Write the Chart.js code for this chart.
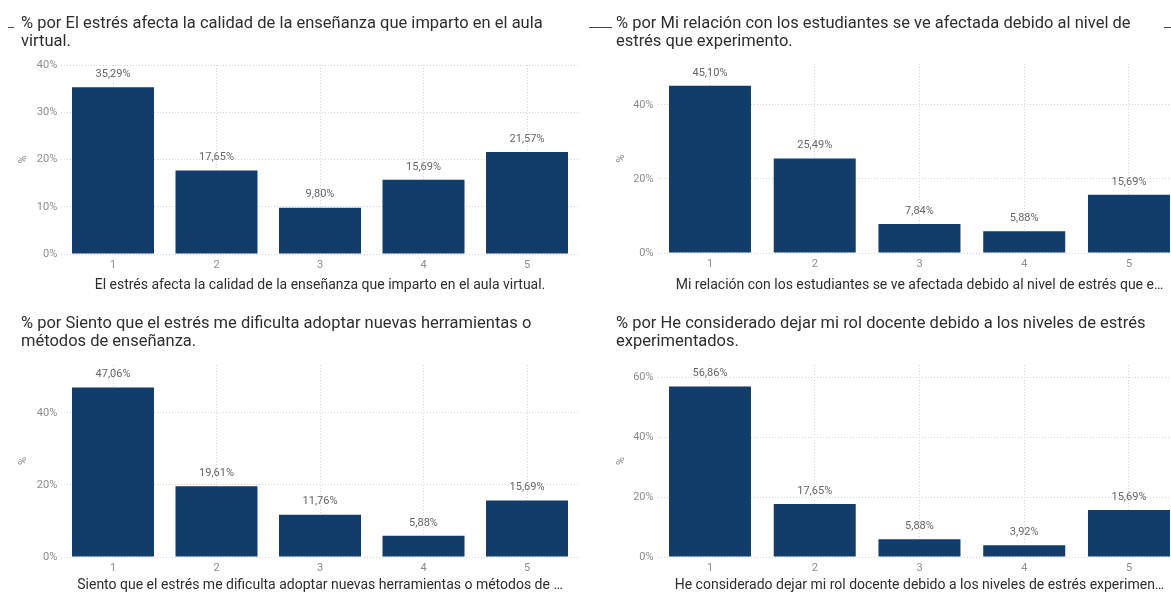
<!DOCTYPE html>
<html>
<head>
<meta charset="utf-8">
<script src="https://cdn.jsdelivr.net/npm/chart.js@4.4.1/dist/chart.umd.min.js"></script>
<style>
  html, body { margin: 0; padding: 0; background: #fff; width: 1171px; height: 592px; overflow: hidden; position: relative; }
  canvas.panel { position: absolute; }
  .mark { position: absolute; height: 1px; background: #4a4a4a; }
</style>
</head>
<body>
<canvas id="calidad" class="panel"></canvas>
<canvas id="relacion" class="panel"></canvas>
<canvas id="herramientas" class="panel"></canvas>
<canvas id="rol" class="panel"></canvas>
<div class="mark" style="left:8px;top:27px;width:6px"></div>
<div class="mark" style="left:589px;top:27px;width:23px"></div>
<div class="mark" style="left:1164px;top:27px;width:7px"></div>

<script>
// Likert responses 1–5, share of teachers (%)
const categories = ['1', '2', '3', '4', '5'];

const estresCalidad       = [35.29, 17.65, 9.80, 15.69, 21.57];
const relacionEstudiantes = [45.10, 25.49, 7.84, 5.88, 15.69];
const nuevasHerramientas  = [47.06, 19.61, 11.76, 5.88, 15.69];
const dejarRolDocente     = [56.86, 17.65, 5.88, 3.92, 15.69];

// y-axis tick values (%)
const ticksCalidad      = [0, 10, 20, 30, 40];
const ticksRelacion     = [0, 20, 40];
const ticksHerramientas = [0, 20, 40];
const ticksRol          = [0, 20, 40, 60];

const tituloCalidad = ['% por El estrés afecta la calidad de la enseñanza que imparto en el aula', 'virtual.'];
const tituloRelacion = ['% por Mi relación con los estudiantes se ve afectada debido al nivel de', 'estrés que experimento.'];
const tituloHerramientas = ['% por Siento que el estrés me dificulta adoptar nuevas herramientas o', 'métodos de enseñanza.'];
const tituloRol = ['% por He considerado dejar mi rol docente debido a los niveles de estrés', 'experimentados.'];

const ejeCalidad = 'El estrés afecta la calidad de la enseñanza que imparto en el aula virtual.';
const ejeRelacion = 'Mi relación con los estudiantes se ve afectada debido al nivel de estrés que e…';
const ejeHerramientas = 'Siento que el estrés me dificulta adoptar nuevas herramientas o métodos de …';
const ejeRol = 'He considerado dejar mi rol docente debido a los niveles de estrés experimen…';

// ---- styling ----
const FONT = 'Roboto, "Noto Sans", sans-serif';
const BAR = '#123d6a';
const GRID = '#d2d2d2';
const TICK = '#8c8c8c';
const LABEL = '#666666';
const TEXT = '#2e2e2e';
const XTITLE_SIZE = 14;
const TITLE_SIZE = 16.5;

const fmtPct = v => v.toFixed(2).replace('.', ',') + '%';

// Panel title drawn at the top-left of each visual
const panelTitle = {
  id: 'panelTitle',
  afterDraw(chart, args, o) {
    const ctx = chart.ctx;
    ctx.save();
    ctx.font = `${o.size}px ${FONT}`;
    ctx.fillStyle = o.color;
    ctx.textBaseline = 'middle';
    ctx.textAlign = 'left';
    o.lines.forEach((t, i) => ctx.fillText(t, o.x, o.y + i * o.lineHeight));
    ctx.restore();
  }
};

// Value labels above each bar
const barValues = {
  id: 'barValues',
  afterDatasetsDraw(chart, args, o) {
    const ctx = chart.ctx;
    const meta = chart.getDatasetMeta(0);
    const data = chart.data.datasets[0].data;
    ctx.save();
    ctx.font = `11px ${FONT}`;
    ctx.fillStyle = o.color;
    ctx.textAlign = 'center';
    ctx.textBaseline = 'middle';
    meta.data.forEach((bar, i) => ctx.fillText(fmtPct(data[i]), bar.x, bar.y - o.gap));
    ctx.restore();
  }
};

Chart.register(panelTitle, barValues);

function makeChart(p, values, ticks, titleLines, axisTitle) {
  const canvas = document.getElementById(p.id);
  canvas.width = p.width;
  canvas.height = p.height;
  canvas.style.left = p.left + 'px';
  canvas.style.top = p.top + 'px';
  canvas.style.width = p.width + 'px';
  canvas.style.height = p.height + 'px';

  const lh = XTITLE_SIZE * 1.2;
  const xAxisH = p.xTitleY + lh / 2 - p.plotBottom;
  const padBottom = Math.max(0, p.height - p.plotBottom - xAxisH);
  const band = (p.plotRight - p.plotLeft) / categories.length;

  return new Chart(canvas, {
    type: 'bar',
    data: {
      labels: categories,
      datasets: [{
        data: values,
        backgroundColor: BAR,
        borderWidth: 0,
        categoryPercentage: 1,
        barPercentage: p.barWidth / band
      }]
    },
    options: {
      responsive: false,
      animation: false,
      devicePixelRatio: 1,
      layout: { padding: { left: 0, right: p.width - p.plotRight, top: p.plotTop, bottom: padBottom } },
      plugins: {
        legend: { display: false },
        tooltip: { enabled: false },
        title: { display: false },
        panelTitle: { lines: titleLines, x: p.titleX, y: p.titleY, lineHeight: 18, size: TITLE_SIZE, color: TEXT },
        barValues: { color: LABEL, gap: 13 }
      },
      scales: {
        x: {
          afterFit: s => { s.height = xAxisH; },
          grid: { offset: false, color: GRID, drawTicks: false, lineWidth: 1 },
          border: { display: false, dash: [1, 2] },
          ticks: { padding: 5, color: TICK, font: { family: FONT, size: 11 } },
          title: {
            display: true, text: axisTitle, color: TEXT,
            font: { family: FONT, size: XTITLE_SIZE, lineHeight: 1.2 },
            padding: { top: 0, bottom: 0 }
          }
        },
        y: {
          min: 0,
          max: p.yMax,
          afterBuildTicks: s => { s.ticks = ticks.map(v => ({ value: v })); },
          afterFit: s => { s.width = p.plotLeft; },
          grid: { color: GRID, drawTicks: false, lineWidth: 1 },
          border: { display: false, dash: [1, 2] },
          ticks: { padding: 4, color: TICK, font: { family: FONT, size: 11 }, callback: v => v + '%' },
          title: {
            display: true, text: '%', color: TICK,
            font: { family: FONT, size: 11, lineHeight: 1.2 },
            padding: { top: p.yTitleX - 6.6, bottom: 0 }
          }
        }
      }
    }
  });
}

// Panel geometry (canvas-local pixels)
const panelCalidad      = { id: 'calidad',      left: 0,   top: 0,   width: 590, height: 296, plotLeft: 61.25, plotRight: 578.75, plotTop: 65, plotBottom: 254, yMax: 40,   barWidth: 82, titleX: 21, titleY: 24, xTitleY: 285, yTitleX: 23 };
const panelRelacion     = { id: 'relacion',     left: 590, top: 0,   width: 600, height: 296, plotLeft: 67.6,  plotRight: 591.35, plotTop: 64, plotBottom: 253, yMax: 51,   barWidth: 82, titleX: 26, titleY: 24, xTitleY: 285, yTitleX: 31 };
const panelHerramientas = { id: 'herramientas', left: 0,   top: 296, width: 590, height: 300, plotLeft: 61.25, plotRight: 578.75, plotTop: 69, plotBottom: 261, yMax: 53.3, barWidth: 82, titleX: 21, titleY: 28, xTitleY: 289, yTitleX: 23 };
const panelRol          = { id: 'rol',          left: 590, top: 296, width: 600, height: 300, plotLeft: 67.6,  plotRight: 591.35, plotTop: 69, plotBottom: 261, yMax: 64,   barWidth: 82, titleX: 26, titleY: 28, xTitleY: 289, yTitleX: 31 };

makeChart(panelCalidad, estresCalidad, ticksCalidad, tituloCalidad, ejeCalidad);
makeChart(panelRelacion, relacionEstudiantes, ticksRelacion, tituloRelacion, ejeRelacion);
makeChart(panelHerramientas, nuevasHerramientas, ticksHerramientas, tituloHerramientas, ejeHerramientas);
makeChart(panelRol, dejarRolDocente, ticksRol, tituloRol, ejeRol);
</script>
</body>
</html>
